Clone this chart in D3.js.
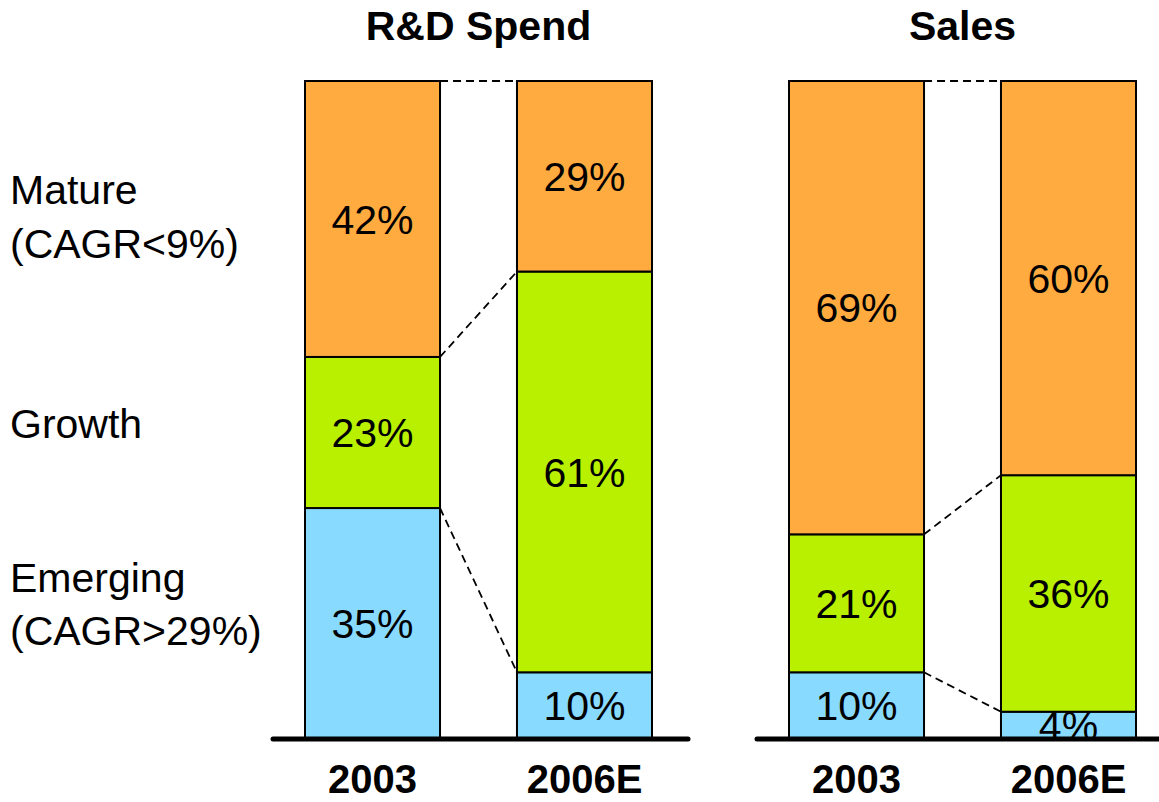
<!DOCTYPE html>
<html><head><meta charset="utf-8">
<script src="https://cdn.jsdelivr.net/npm/d3@7"></script>
<style>body{margin:0;background:#fff}svg{display:block;font-family:"Liberation Sans",Arial,sans-serif}</style>
</head><body><svg id="c" width="1159" height="802"></svg>
<script>
const panels = ["R&D Spend", "Sales"];
const years = ["2003", "2006E"];
const segments = ["Emerging", "Growth", "Mature"];
const rdEmerging = [35, 10];
const rdGrowth = [23, 61];
const rdMature = [42, 29];
const salesEmerging = [10, 4];
const salesGrowth = [21, 36];
const salesMature = [69, 60];
const rowLabels = [["Mature", "(CAGR<9%)"], ["Growth"], ["Emerging", "(CAGR>29%)"]];
const colors = {Emerging: "#88DAFF", Growth: "#B8F000", Mature: "#FFAB40"};

const panelData = [
  {name: panels[0], series: {Emerging: rdEmerging, Growth: rdGrowth, Mature: rdMature}, x0: 273, x1: 688, bars: [305, 652]},
  {name: panels[1], series: {Emerging: salesEmerging, Growth: salesGrowth, Mature: salesMature}, x0: 757, x1: 1159, bars: [789, 1136]}
];

const svg = d3.select("#c");
const y = d3.scaleLinear().domain([0, 100]).range([738, 81]);

panelData.forEach(p => {
  const x = d3.scaleBand().domain(years).range(p.bars).paddingInner(0.363).paddingOuter(0);
  const rows = years.map((yr, i) => {
    const r = {year: yr};
    segments.forEach(s => r[s] = p.series[s][i]);
    return r;
  });
  const stacked = d3.stack().keys(segments)(rows);
  const g = svg.append("g");

  stacked.forEach(layer => {
    const b = layer.map(d => d[1]);
    g.append("line")
      .attr("x1", x(years[0]) + x.bandwidth()).attr("y1", y(b[0]))
      .attr("x2", x(years[1])).attr("y2", y(b[1]))
      .attr("stroke", "#000").attr("stroke-width", 1.8).attr("stroke-dasharray", "8,5");
  });

  stacked.forEach(layer => {
    const key = layer.key;
    layer.forEach((d, i) => {
      g.append("rect")
        .attr("x", x(years[i])).attr("width", x.bandwidth())
        .attr("y", y(d[1])).attr("height", y(d[0]) - y(d[1]))
        .attr("fill", colors[key]).attr("stroke", "#000").attr("stroke-width", 2);
    });
  });
  stacked.forEach(layer => {
    layer.forEach((d, i) => {
      g.append("text")
        .attr("x", x(years[i]) + x.bandwidth() / 2)
        .attr("y", (y(d[0]) + y(d[1])) / 2)
        .attr("dy", "0.36em").attr("text-anchor", "middle")
        .attr("font-size", 41).attr("fill", "#000")
        .text((d[1] - d[0]) + "%");
    });
  });

  g.append("line").attr("x1", p.x0).attr("x2", p.x1).attr("y1", 739).attr("y2", 739)
    .attr("stroke", "#000").attr("stroke-width", 5).attr("stroke-linecap", "round");

  years.forEach(yr => {
    g.append("text").attr("x", x(yr) + x.bandwidth() / 2).attr("y", 793)
      .attr("text-anchor", "middle").attr("font-size", 40).attr("font-weight", "bold").text(yr);
  });
  g.append("text").attr("x", (p.bars[0] + p.bars[1]) / 2).attr("y", 40)
    .attr("text-anchor", "middle").attr("font-size", 41).attr("font-weight", "bold").text(p.name);
});

const labelY = [[204, 258], [438], [592, 645]];
rowLabels.forEach((lines, i) => {
  lines.forEach((t, j) => {
    svg.append("text").attr("x", 10).attr("y", labelY[i][j]).attr("font-size", 41).text(t);
  });
});
</script></body></html>
